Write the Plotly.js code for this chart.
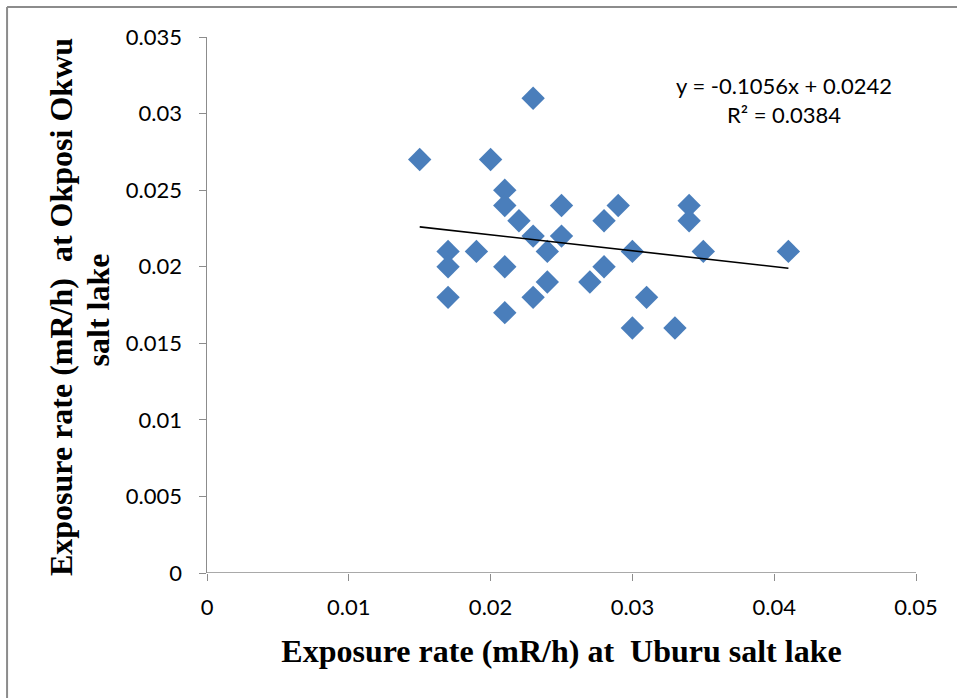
<!DOCTYPE html>
<html><head><meta charset="utf-8">
<script src="https://cdn.plot.ly/plotly-3.0.1.min.js"></script>
<style>html,body{margin:0;padding:0;background:#fff;}#chart{width:957px;height:698px;}</style>
</head><body><div id="chart"></div>
<script>
const uburu = [0.015,0.017,0.017,0.017,0.019,0.020,0.021,0.021,0.021,0.021,0.022,0.023,0.023,0.023,0.024,0.024,0.025,0.025,0.027,0.028,0.028,0.029,0.030,0.030,0.031,0.033,0.034,0.034,0.035,0.041];
const okposi = [0.027,0.021,0.020,0.018,0.021,0.027,0.025,0.024,0.020,0.017,0.023,0.031,0.022,0.018,0.021,0.019,0.024,0.022,0.019,0.023,0.020,0.024,0.021,0.016,0.018,0.016,0.024,0.023,0.021,0.021];
const trendX = [0.015, 0.041];
const trendY = [0.0226, 0.0199];
const xTicks = [0,0.01,0.02,0.03,0.04,0.05];
const xTickText = ['0','0.01','0.02','0.03','0.04','0.05'];
const yTicks = [0,0.005,0.01,0.015,0.02,0.025,0.03,0.035];
const yTickText = ['0','0.005','0.01','0.015','0.02','0.025','0.03','0.035'];
const eqText = 'y = -0.1056x + 0.0242<br>R² = 0.0384';
const xTitle = 'Exposure rate (mR/h) at  Uburu salt lake';
const yTitleLine1 = 'Exposure rate (mR/h)  at Okposi Okwu';
const yTitleLine2 = 'salt lake';

const tickFont = {family:'Lato, "Open Sans", sans-serif', size:22, color:'#000'};
const xTitleFont = {family:'"Liberation Serif", "Times New Roman", serif', size:32, color:'#000', weight:'bold'};
const yTitleFont = {family:'"Liberation Serif", "Times New Roman", serif', size:32, color:'#000', weight:'bold'};

const traces = [
  {x:uburu, y:okposi, type:'scatter', mode:'markers',
   marker:{symbol:'diamond', size:18, color:'#4a7ebb', line:{width:0}}, showlegend:false, hoverinfo:'x+y'},
  {x:trendX, y:trendY, type:'scatter', mode:'lines',
   line:{color:'#000', width:1.6}, showlegend:false, hoverinfo:'skip'}
];
const layout = {
  width:957, height:698,
  margin:{l:207, r:41, t:37, b:125},
  paper_bgcolor:'#fff', plot_bgcolor:'#fff',
  xaxis:{range:[0,0.05], tickvals:xTicks, ticktext:xTickText, showgrid:false, zeroline:false,
    showline:false, ticks:'outside', ticklen:7, tickcolor:'#8c8c8c', tickfont:tickFont, ticklabelstandoff:8,
    title:{text:xTitle, font:xTitleFont, standoff:20}},
  yaxis:{range:[0,0.035], tickvals:yTicks, ticktext:yTickText, showgrid:false, zeroline:false,
    showline:true, linecolor:'#8c8c8c', linewidth:1.5, ticks:'outside', ticklen:7, tickcolor:'#8c8c8c', tickfont:tickFont, ticklabelstandoff:12},
  shapes:[
    {type:'line', xref:'paper', yref:'y', x0:0, x1:1, y0:0, y1:0, line:{color:'#8c8c8c', width:1.5}},
    {type:'line', xref:'paper', yref:'paper', x0:-0.282, x1:1.1, y0:1.056, y1:1.056, line:{color:'#8c8c8c', width:2}},
    {type:'line', xref:'paper', yref:'paper', x0:-0.282, x1:-0.282, y0:-0.3, y1:1.056, line:{color:'#8c8c8c', width:2}}
  ],
  annotations:[
    {xref:'paper', yref:'paper', x:0.8135, y:0.883, text:eqText, showarrow:false, align:'center',
     font:{family:'Lato, "Open Sans", sans-serif', size:22, color:'#000'}, xanchor:'center', yanchor:'middle'},
    {xref:'paper', yref:'paper', x:-0.206, y:0.496, text:yTitleLine1, textangle:-90, showarrow:false,
     font:yTitleFont, xanchor:'center', yanchor:'middle'},
    {xref:'paper', yref:'paper', x:-0.1537, y:0.49, text:yTitleLine2, textangle:-90, showarrow:false,
     font:yTitleFont, xanchor:'center', yanchor:'middle'}
  ]
};
Plotly.newPlot('chart', traces, layout, {displayModeBar:false, staticPlot:true});
</script></body></html>
